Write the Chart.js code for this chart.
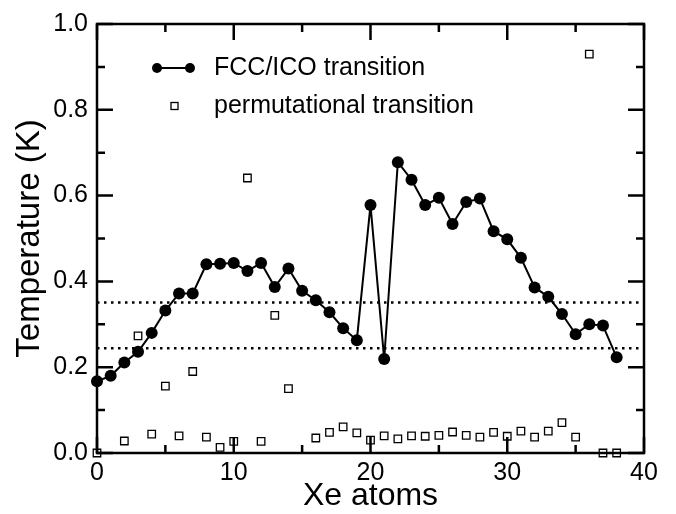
<!DOCTYPE html>
<html>
<head>
<meta charset="utf-8">
<script src="https://cdn.jsdelivr.net/npm/chart.js@4.4.1/dist/chart.umd.min.js"></script>
<style>
  html, body { margin: 0; padding: 0; background: #fff; }
  #wrap { width: 676px; height: 514px; }
</style>
</head>
<body>
<div id="wrap"><canvas id="tempChart"></canvas></div>
<script>
// Datos
const fccAtoms = [0, 1, 2, 3, 4, 5, 6, 7, 8, 9, 10, 11, 12, 13, 14, 15, 16, 17, 18, 19,
                  20, 21, 22, 23, 24, 25, 26, 27, 28, 29, 30, 31, 32, 33, 34, 35, 36, 37, 38];
const fccTemp = [0.167, 0.180, 0.211, 0.236, 0.280, 0.332, 0.372, 0.372, 0.440, 0.441,
                 0.443, 0.424, 0.443, 0.387, 0.430, 0.378, 0.356, 0.328, 0.291, 0.263,
                 0.578, 0.219, 0.678, 0.637, 0.578, 0.595, 0.534, 0.585, 0.593, 0.517,
                 0.498, 0.455, 0.386, 0.364, 0.324, 0.277, 0.300, 0.297, 0.223];

const permAtoms = [0, 2, 3, 4, 5, 6, 7, 8, 9, 10, 11, 12, 13, 14, 16, 17, 18, 19, 20,
                   21, 22, 23, 24, 25, 26, 27, 28, 29, 30, 31, 32, 33, 34, 35, 36, 37, 38];
const permTemp = [0.000, 0.028, 0.273, 0.044, 0.156, 0.040, 0.190, 0.037, 0.013, 0.027,
                  0.641, 0.027, 0.321, 0.150, 0.035, 0.048, 0.061, 0.047, 0.030,
                  0.040, 0.033, 0.040, 0.039, 0.041, 0.049, 0.041, 0.037, 0.048, 0.039,
                  0.051, 0.037, 0.051, 0.071, 0.037, 0.930, 0.000, 0.000];

const refLevels = [0.351, 0.244];
const xTicks = [0, 10, 20, 30, 40];
const yTicks = [0, 0.2, 0.4, 0.6, 0.8, 1.0];

const fontFamily = "'Liberation Sans', Arial, Helvetica, sans-serif";

const toPoints = (xs, ys) => xs.map((x, i) => ({ x: x, y: ys[i] }));

// Marco completo con marcas hacia dentro en los cuatro lados
const frameTicks = {
    id: 'frameTicks',
    afterDatasetsDraw(chart) {
        const { ctx, chartArea: { left, right, top, bottom }, scales: { x, y } } = chart;
        ctx.save();
        ctx.strokeStyle = '#000';
        ctx.lineWidth = 2.5;
        ctx.lineCap = 'butt';
        ctx.strokeRect(left, top, right - left, bottom - top);

        ctx.beginPath();
        for (let v = 0; v <= 40; v += 5) {
            const px = x.getPixelForValue(v);
            const len = v % 10 === 0 ? 16 : 8;
            ctx.moveTo(px, bottom); ctx.lineTo(px, bottom - len);
            ctx.moveTo(px, top); ctx.lineTo(px, top + len);
        }
        for (let k = 0; k <= 10; k++) {
            const py = y.getPixelForValue(k / 10);
            const len = k % 2 === 0 ? 16 : 8;
            ctx.moveTo(left, py); ctx.lineTo(left + len, py);
            ctx.moveTo(right, py); ctx.lineTo(right - len, py);
        }
        ctx.stroke();
        ctx.restore();
    }
};

// Leyenda dibujada dentro del área del gráfico
const insideLegend = {
    id: 'insideLegend',
    afterDraw(chart) {
        const { ctx, chartArea: { left, top } } = chart;
        const x0 = left + 60, x1 = left + 93, tx = left + 117;
        const y0 = top + 44, y1 = top + 82;
        ctx.save();
        ctx.strokeStyle = '#000';
        ctx.fillStyle = '#000';
        ctx.lineWidth = 2;
        ctx.beginPath();
        ctx.moveTo(x0, y0); ctx.lineTo(x1, y0);
        ctx.stroke();
        [x0, x1].forEach(cx => {
            ctx.beginPath();
            ctx.arc(cx, y0, 5, 0, Math.PI * 2);
            ctx.fill();
        });
        ctx.lineWidth = 1.3;
        ctx.fillStyle = '#fff';
        ctx.fillRect(x0 + 14, y1 - 3.5, 7, 7);
        ctx.strokeRect(x0 + 14, y1 - 3.5, 7, 7);

        ctx.fillStyle = '#000';
        ctx.font = "25px " + fontFamily;
        ctx.textAlign = 'left';
        ctx.textBaseline = 'middle';
        ctx.fillText('FCC/ICO transition', tx, y0);
        ctx.fillText('permutational transition', tx, y1);
        ctx.restore();
    }
};

const refDatasets = refLevels.map(level => ({
    label: 'ref ' + level,
    data: toPoints([0, 40], [level, level]),
    borderColor: '#000',
    borderWidth: 2.5,
    borderDash: [2.5, 4.5],
    pointRadius: 0,
    showLine: true,
    order: 3
}));

new Chart(document.getElementById('tempChart').getContext('2d'), {
    type: 'scatter',
    data: {
        datasets: [
            {
                label: 'FCC/ICO transition',
                data: toPoints(fccAtoms, fccTemp),
                showLine: true,
                borderColor: '#000',
                borderWidth: 2,
                backgroundColor: '#000',
                pointRadius: 6,
                pointBorderWidth: 0,
                clip: false,
                order: 2
            },
            {
                label: 'permutational transition',
                data: toPoints(permAtoms, permTemp),
                showLine: false,
                pointStyle: 'rect',
                pointRadius: 5.3,
                borderColor: '#000',
                borderWidth: 1.3,
                backgroundColor: '#fff',
                clip: false,
                order: 1
            },
            ...refDatasets
        ]
    },
    plugins: [frameTicks, insideLegend],
    options: {
        responsive: true,
        maintainAspectRatio: false,
        animation: false,
        events: [],
        layout: { padding: { top: 23, right: 32, left: 0, bottom: 0 } },
        plugins: {
            legend: { display: false },
            tooltip: { enabled: false }
        },
        scales: {
            x: {
                type: 'linear',
                min: 0,
                max: 40,
                afterFit(scale) { scale.height = 61; },
                afterBuildTicks(scale) { scale.ticks = xTicks.map(v => ({ value: v })); },
                grid: { display: false, drawTicks: false },
                border: { display: false },
                ticks: {
                    color: '#000',
                    padding: 5,
                    maxRotation: 0,
                    font: { family: fontFamily, size: 25 }
                },
                title: {
                    display: true,
                    text: 'Xe atoms',
                    color: '#000',
                    padding: { top: 0, bottom: 0 },
                    font: { family: fontFamily, size: 32, lineHeight: 1.1 }
                }
            },
            y: {
                type: 'linear',
                min: 0,
                max: 1,
                afterFit(scale) { scale.width = 97; },
                afterBuildTicks(scale) { scale.ticks = yTicks.map(v => ({ value: v })); },
                grid: { display: false, drawTicks: false },
                border: { display: false },
                ticks: {
                    color: '#000',
                    padding: 9,
                    font: { family: fontFamily, size: 25 },
                    callback: v => v.toFixed(1)
                },
                title: {
                    display: true,
                    text: 'Temperature (K)',
                    color: '#000',
                    padding: { top: 10, bottom: 0 },
                    font: { family: fontFamily, size: 33, lineHeight: 1.2 }
                }
            }
        }
    }
});
</script>
</body>
</html>
